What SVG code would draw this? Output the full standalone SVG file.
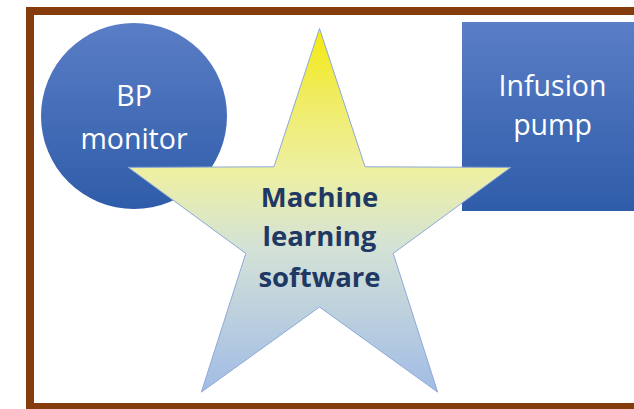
<svg xmlns="http://www.w3.org/2000/svg" width="634" height="409" viewBox="0 0 634 409">
  <defs>
    <linearGradient id="blueFill" x1="0" y1="0" x2="0" y2="1">
      <stop offset="0" stop-color="#5a7ec6"/>
      <stop offset="1" stop-color="#2f5ca9"/>
    </linearGradient>
    <linearGradient id="starFill" gradientUnits="userSpaceOnUse" x1="0" y1="28" x2="0" y2="392">
      <stop offset="0" stop-color="#f5ea0c"/>
      <stop offset="0.2" stop-color="#f0ec66"/>
      <stop offset="0.4" stop-color="#edf0a4"/>
      <stop offset="0.6" stop-color="#d4e2d6"/>
      <stop offset="1" stop-color="#a1bce6"/>
    </linearGradient>
    <style>
      .frame { fill: #ffffff; stroke: #843c0c; stroke-width: 8; }
      .device { fill: url(#blueFill); }
      .star { fill: url(#starFill); stroke: #8ea9d8; stroke-width: 1; }
      .light { font-family: "Open Sans", "DejaVu Sans", sans-serif; font-size: 28.5px; fill: #ffffff; text-anchor: middle; }
      .bold { font-family: "Open Sans", "DejaVu Sans", sans-serif; font-size: 27.5px; font-weight: bold; fill: #1f3864; text-anchor: middle; }
    </style>
  </defs>

  <rect width="634" height="409" fill="#ffffff"/>
  <!-- outer frame, running off the right edge -->
  <rect class="frame" x="30" y="11" width="640" height="396"/>

  <g id="bp-monitor">
    <circle class="device" cx="134" cy="116" r="93"/>
    <text class="light" x="134" y="106">BP</text>
    <text class="light" x="134" y="149">monitor</text>
  </g>

  <g id="infusion-pump">
    <rect class="device" x="462" y="22" width="200" height="189"/>
    <text class="light" x="552.5" y="96">Infusion</text>
    <text class="light" x="552.5" y="135">pump</text>
  </g>

  <g id="ml-software">
    <path class="star" d="M319.5,28.5 L365.05,166.8 L510.66,167.39 L393.21,253.45 L437.65,392.11 L319.5,307 L201.35,392.11 L245.79,253.45 L128.34,167.39 L273.95,166.8 Z"/>
    <text class="bold" x="319.5" y="207">Machine</text>
    <text class="bold" x="319.5" y="246">learning</text>
    <text class="bold" x="319.5" y="287">software</text>
  </g>

  <g id="connectors"/>
</svg>
